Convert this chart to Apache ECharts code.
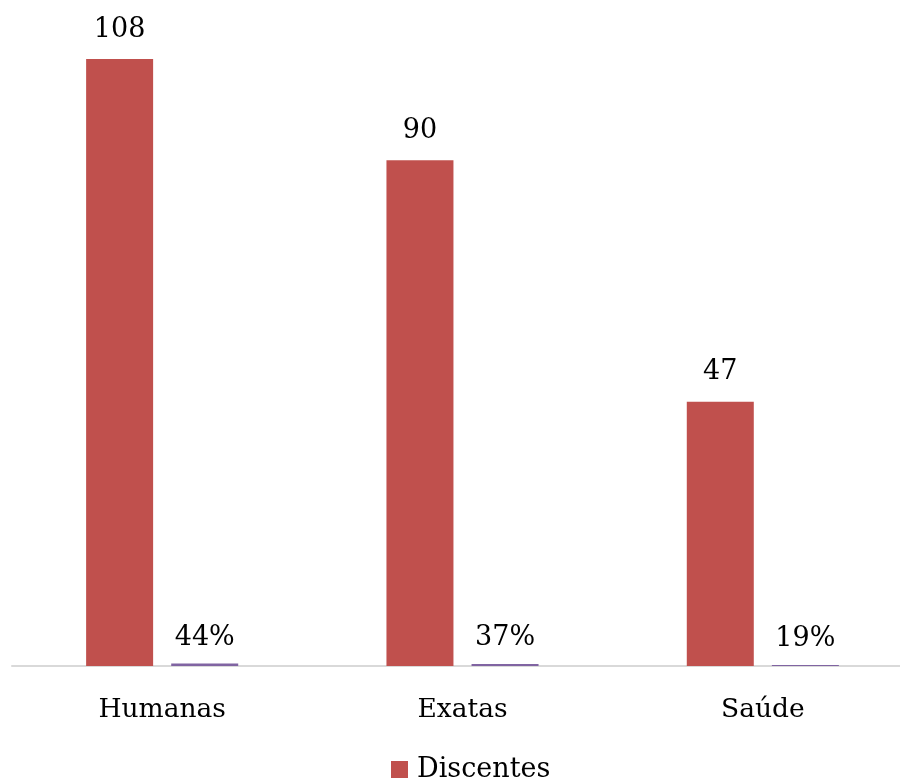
<!DOCTYPE html>
<html>
<head>
<meta charset="utf-8">
<style>
  html, body { margin: 0; padding: 0; background: #fff; }
  #chart { width: 900px; height: 782px; }
</style>
<script src="https://cdn.jsdelivr.net/npm/echarts@6/dist/echarts.min.js"></script>
</head>
<body>
<div id="chart"></div>
<script>
// Students per area and their share of the total
const categories = ['Humanas', 'Exatas', 'Saúde'];
const discentes = [108, 90, 47];
const percentuais = [44, 37, 19];

const FONT = '"DejaVu Serif", serif';

const chart = echarts.init(document.getElementById('chart'));
chart.setOption({
  animation: false,
  backgroundColor: '#ffffff',
  grid: { left: 12, width: 901, top: 0, bottom: 116, outerBoundsMode: 'none', containLabel: false },
  legend: {
    data: ['Discentes'],
    left: 391,
    top: 756,
    padding: 0,
    icon: 'rect',
    itemWidth: 17,
    itemHeight: 17,
    itemGap: 6,
    textStyle: { fontFamily: FONT, fontSize: 27, color: '#000', padding: [0, 0, 0, 4] }
  },
  xAxis: {
    type: 'category',
    data: categories,
    axisLine: { lineStyle: { color: '#d9d9d9', width: 2 } },
    axisTick: { show: false },
    axisLabel: { fontFamily: FONT, fontSize: 26.5, color: '#000', margin: 31 }
  },
  yAxis: {
    type: 'value',
    min: 0,
    max: 118.5,
    show: false,
    splitLine: { show: false }
  },
  series: [
    {
      name: 'Discentes',
      type: 'bar',
      data: discentes,
      barWidth: 67,
      barGap: '27%',
      itemStyle: { color: '#c0504d' },
      label: {
        show: true,
        position: 'top',
        distance: 16,
        fontFamily: FONT,
        fontSize: 27,
        color: '#000'
      }
    },
    {
      name: 'Percentual',
      type: 'bar',
      data: percentuais.map(p => p / 100),
      barWidth: 67,
      itemStyle: { color: '#8064a2' },
      label: {
        show: true,
        position: 'top',
        distance: 12,
        fontFamily: FONT,
        fontSize: 27,
        color: '#000',
        formatter: p => percentuais[p.dataIndex] + '%'
      }
    }
  ]
});
</script>
</body>
</html>
